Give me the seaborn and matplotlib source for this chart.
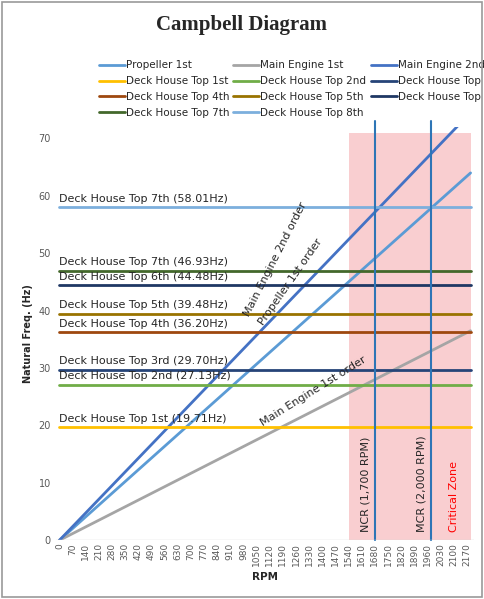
import numpy as np
import matplotlib
matplotlib.use("Agg")
import matplotlib.pyplot as plt
import seaborn as sns
import pandas as pd

sns.set_style("white")
plt.rcParams['font.family'] = ['DejaVu Sans']

rpm = [0, 2190]
prop_1st = [0, 64.0]
me_1st = [0, 36.5]
me_2nd = [0, 74.5]
dh_names = ["Deck House Top 1st", "Deck House Top 2nd", "Deck House Top 3rd", "Deck House Top 4th",
            "Deck House Top 5th", "Deck House Top 6th", "Deck House Top 7th", "Deck House Top 8th"]
dh_freqs = [19.71, 27.13, 29.70, 36.20, 39.48, 44.48, 46.93, 58.01]
dh_labels = ["Deck House Top 1st (19.71Hz)", "Deck House Top 2nd (27.13Hz)", "Deck House Top 3rd (29.70Hz)",
             "Deck House Top 4th (36.20Hz)", "Deck House Top 5th (39.48Hz)", "Deck House Top 6th (44.48Hz)",
             "Deck House Top 7th (46.93Hz)", "Deck House Top 7th (58.01Hz)"]
dh_colors = ["#FFC000", "#70AD47", "#264478", "#9E480E", "#997300", "#1F3864", "#43682B", "#7CAFDD"]
ncr, mcr = 1680, 1980
zone = [1540, 2190]
xticks = list(range(0, 2171, 70))

fig = plt.figure(figsize=(4.84, 5.99), dpi=100)
ax = fig.add_axes([0.115, 0.098, 0.865, 0.69])
fig.patches.append(plt.Rectangle((0.004, 0.004), 0.992, 0.992, transform=fig.transFigure,
                                 fill=False, edgecolor="#999999", lw=1.2))
fig.text(0.5, 0.958, "Campbell Diagram", ha="center", va="center", fontsize=15,
         fontweight="bold", family="Liberation Serif")

ax.axvspan(zone[0], zone[1], ymin=0, ymax=71/72, color="#F8C6C8", alpha=0.85, lw=0)
sns.lineplot(x=rpm, y=prop_1st, ax=ax, color="#5B9BD5", lw=2, label="Propeller 1st")
sns.lineplot(x=rpm, y=me_1st, ax=ax, color="#A5A5A5", lw=2, label="Main Engine 1st")
sns.lineplot(x=rpm, y=me_2nd, ax=ax, color="#4472C4", lw=2, label="Main Engine 2nd")
for n, f, c, l in zip(dh_names, dh_freqs, dh_colors, dh_labels):
    sns.lineplot(x=[0, 2190], y=[f, f], ax=ax, color=c, lw=2, label=n)
    ax.text(0, f + 0.6, l, fontsize=8, va="bottom", ha="left")
for v, t in [(ncr, "NCR (1,700 RPM)"), (mcr, "MCR (2,000 RPM)")]:
    ax.plot([v, v], [0, 73], color="#2E75B6", lw=1.5, clip_on=False)
    ax.text(v - 50, 1.5, t, rotation=90, fontsize=8, va="bottom", ha="center")
ax.text(2100, 1.5, "Critical Zone", rotation=90, fontsize=8, va="bottom", ha="center", color="red")
ax.text(1150, 49, "Main Engine 2nd order", rotation=63, fontsize=8, ha="center", va="center")
ax.text(1230, 45, "Propeller 1st order", rotation=55, fontsize=8, ha="center", va="center")
ax.text(1350, 26, "Main Engine 1st order", rotation=32, fontsize=8, ha="center", va="center")

ax.set_xlim(-20, 2210)
ax.set_ylim(0, 72)
ax.set_xticks(xticks)
ax.set_xticklabels([str(t) for t in xticks], rotation=90, fontsize=6.5, color="#595959")
ax.set_yticks(range(0, 71, 10))
ax.tick_params(axis="y", labelsize=7, colors="#595959", length=0)
ax.tick_params(axis="x", length=0, pad=2)
ax.set_xlabel("RPM", fontsize=7.5, fontweight="bold")
ax.set_ylabel("Natural Freq. (Hz)", fontsize=7, fontweight="bold")
for s in ax.spines.values():
    s.set_visible(False)
ax.axhline(0, color="#D9D9D9", lw=1)
h, lab = ax.get_legend_handles_labels()
order = [0, 3, 6, 9, 1, 4, 7, 10, 2, 5, 8]
ax.legend([h[i] for i in order], [lab[i] for i in order], loc="lower left",
          bbox_to_anchor=(0.08, 1.0), ncol=3, frameon=False, fontsize=7.5,
          handlelength=2.5, handletextpad=0.1, columnspacing=0.4, labelspacing=0.55)
fig.savefig("out.png", dpi=100)
